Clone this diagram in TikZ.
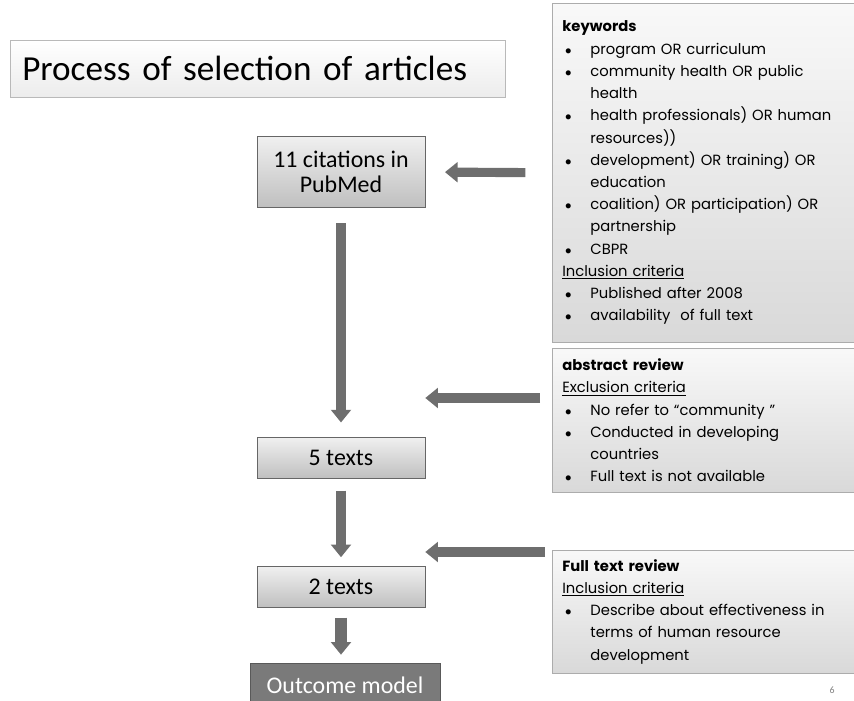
\documentclass[tikz,border=0pt]{standalone}
\usepackage{fontspec}
\setmainfont{Carlito}
\newfontfamily\boxfont{Poppins}
\usetikzlibrary{arrows.meta, calc}

\definecolor{arrowgray}{HTML}{6E6E6E}
\definecolor{outgray}{HTML}{7A7A7A}

\newcommand{\pix}{0.025cm}
\newcommand{\bitem}{\hspace*{2pt}\makebox[18pt][l]{\small$\bullet$}}
\newcommand{\bcont}{\hspace*{20pt}}

\tikzset{
	flow/.style = {draw = arrowgray, line width = 6.5pt, -{Triangle[width = 14pt, length = 9pt]}},
	titlebox/.style = {draw = gray!55, top color = white, bottom color = gray!15, anchor = north west,
		minimum width = 495*\pix, minimum height = 57*\pix, text width = 471*\pix, inner xsep = 12*\pix,
		align = left, font = \fontsize{25}{30}\selectfont},
	stepbox/.style = {draw = gray!80!black, top color = gray!12, bottom color = gray!50,
		minimum width = 168*\pix, minimum height = 41*\pix, inner sep = 1pt, align = center,
		font = \fontsize{17}{17.7}\selectfont},
	outbox/.style = {draw = gray!70!black, fill = outgray, text = white,
		minimum width = 190*\pix, minimum height = 44*\pix, font = \fontsize{17}{17.7}\selectfont},
	textbox/.style = {draw = gray!65, top color = gray!5, bottom color = gray!30, anchor = north west,
		text width = 290*\pix, inner xsep = 10*\pix, align = left,
		font = \boxfont\fontsize{10.5}{15.8}\selectfont}
}

\begin{document}
\begin{tikzpicture}[x = 0.025cm, y = -0.025cm]
	\useasboundingbox (0,0) rectangle (854,701);

	\node [titlebox] (title) at (10,40) {Process of selection of articles};

	\node [stepbox, minimum height = 71*\pix] (cit) at (341,172) {11 citations in\\PubMed};
	\node [stepbox] (five) at (341,458) {5 texts};
	\node [stepbox] (two) at (341,587) {2 texts};
	\node [outbox] (out) at (345,685) {Outcome model};

	\node [textbox, minimum height = 339*\pix] (kw) at (552,3) {\textbf{keywords}\\
		\bitem program OR curriculum\\
		\bitem community health OR public\\
		\bcont health\\
		\bitem health professionals) OR human\\
		\bcont resources))\\
		\bitem development) OR training) OR\\
		\bcont education\\
		\bitem coalition) OR participation) OR\\
		\bcont partnership\\
		\bitem CBPR\\
		\underline{Inclusion criteria}\\
		\bitem Published after 2008\\
		\bitem availability\ \ of full text};

	\node [textbox, minimum height = 144*\pix] (abs) at (552,348) {\textbf{abstract review}\\
		\underline{Exclusion criteria}\\
		\bitem No refer to “community ”\\
		\bitem Conducted in developing\\
		\bcont countries\\
		\bitem Full text is not available};

	\node [textbox, minimum height = 123*\pix] (ft) at (552,550) {\textbf{Full text review}\\
		\underline{Inclusion criteria}\\
		\bitem Describe about effectiveness in\\
		\bcont terms of human resource\\
		\bcont development};

	\node [font = \fontsize{7}{8}\selectfont, text = gray] (pg) at (832,690) {6};

	\coordinate (absin) at (540,398);
	\coordinate (ftin) at (545,552);

	\begin{scope}[flow]
		\draw [shorten < = 19pt, shorten > = 14pt] (kw.west) -- (cit.east);
		\draw (absin) -- (absin -| five.east);
		\draw (ftin) -- (ftin -| two.east);

		\draw [shorten < = 11pt, shorten > = 10.5pt] (cit.south) -- (five.north);
		\draw [shorten < = 8.5pt, shorten > = 6.4pt] (five.south) -- (two.north);
		\draw [line width = 8pt, shorten < = 7pt, shorten > = 5.7pt] (two.south) -- (two.south |- out.north);
	\end{scope}
\end{tikzpicture}
\end{document}
